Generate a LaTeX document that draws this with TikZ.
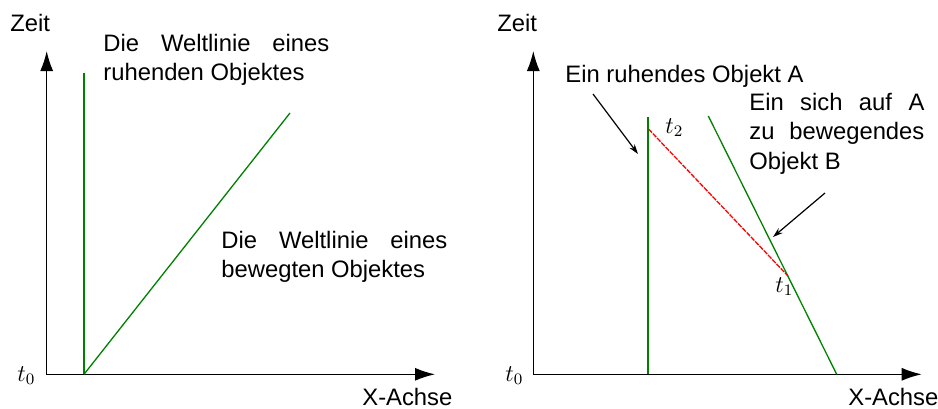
\documentclass[tikz,border=0pt]{standalone}
\usepackage{fontspec}
\setmainfont{Liberation Sans}
\usetikzlibrary{arrows.meta}
\begin{document}
\begin{tikzpicture}[x=0.5pt,y=-0.5pt,
  lbl/.style={inner sep=0pt, anchor=base west, font=\fontsize{11.9}{14.5}\selectfont},
  axis/.style={line width=0.7pt, black, {Latex[length=10pt,width=6.5pt]}-{Latex[length=10pt,width=6.5pt]}},
  world/.style={line width=0.65pt, green!50!black},
  light/.style={line width=0.65pt, red, dash pattern=on 2.5pt off 0.6pt},
  note/.style={line width=0.6pt, black, -{Stealth[length=5pt,width=3.2pt]}}]
\useasboundingbox (0,0) rectangle (938,408);
% ---- left panel ----
\coordinate (oL) at (46.7,374.3);
\coordinate (yL) at (46.7,51);
\coordinate (xL) at (435,374.3);
\draw[axis] (yL) -- (oL) -- (xL);
\coordinate (restTopL) at (84,73);
\coordinate (restBotL) at (84,374.3);
\coordinate (movTopL) at (290,113);
\draw[world] (restTopL) -- (restBotL);
\draw[world] (restBotL) -- (movTopL);
\node[lbl] (zeitL) at (10,31) {Zeit};
\node[lbl] (xachseL) at (362,405) {X-Achse};
\node[lbl] (t0L) at (17,381) {$t_0$};
\node[lbl] (restA) at (103,51) {\makebox[113pt][s]{Die Weltlinie eines}};
\node[lbl] (restB) at (103,80) {ruhenden Objektes};
\node[lbl] (movA) at (221,248) {\makebox[113pt][s]{Die Weltlinie eines}};
\node[lbl] (movB) at (221,277) {bewegten Objektes};
% ---- right panel ----
\coordinate (oR) at (533.3,374.3);
\coordinate (yR) at (533.3,51);
\coordinate (xR) at (921.7,374.3);
\draw[axis] (yR) -- (oR) -- (xR);
\coordinate (aTop) at (648,117);
\coordinate (aBot) at (648,374.3);
\coordinate (bTop) at (708.3,116);
\coordinate (bBot) at (836.7,374.3);
\coordinate (pA) at (648.5,129);
\coordinate (pB) at (788,276);
\draw[world] (aTop) -- (aBot);
\draw[world] (bTop) -- (bBot);
\draw[light] (pA) -- (pB);
\node[lbl] (zeitR) at (497,31) {Zeit};
\node[lbl] (xachseR) at (848,405) {X-Achse};
\node[lbl] (t0R) at (505,381) {$t_0$};
\node[lbl] (t2) at (665,133) {$t_2$};
\node[lbl] (t1) at (775,292) {$t_1$};
\node[lbl] (objA) at (565,82) {Ein ruhendes Objekt A};
\node[lbl] (objB1) at (749,110) {\makebox[87.5pt][s]{Ein sich auf A}};
\node[lbl] (objB2) at (749,139.5) {\makebox[87.5pt][s]{zu bewegendes}};
\node[lbl] (objB3) at (749,169) {Objekt B};
\coordinate (nA1) at (593,94);
\coordinate (nA2) at (638,154);
\coordinate (nB1) at (825,193);
\coordinate (nB2) at (773,237);
\draw[note] (nA1) -- (nA2);
\draw[note] (nB1) -- (nB2);
\end{tikzpicture}
\end{document}
